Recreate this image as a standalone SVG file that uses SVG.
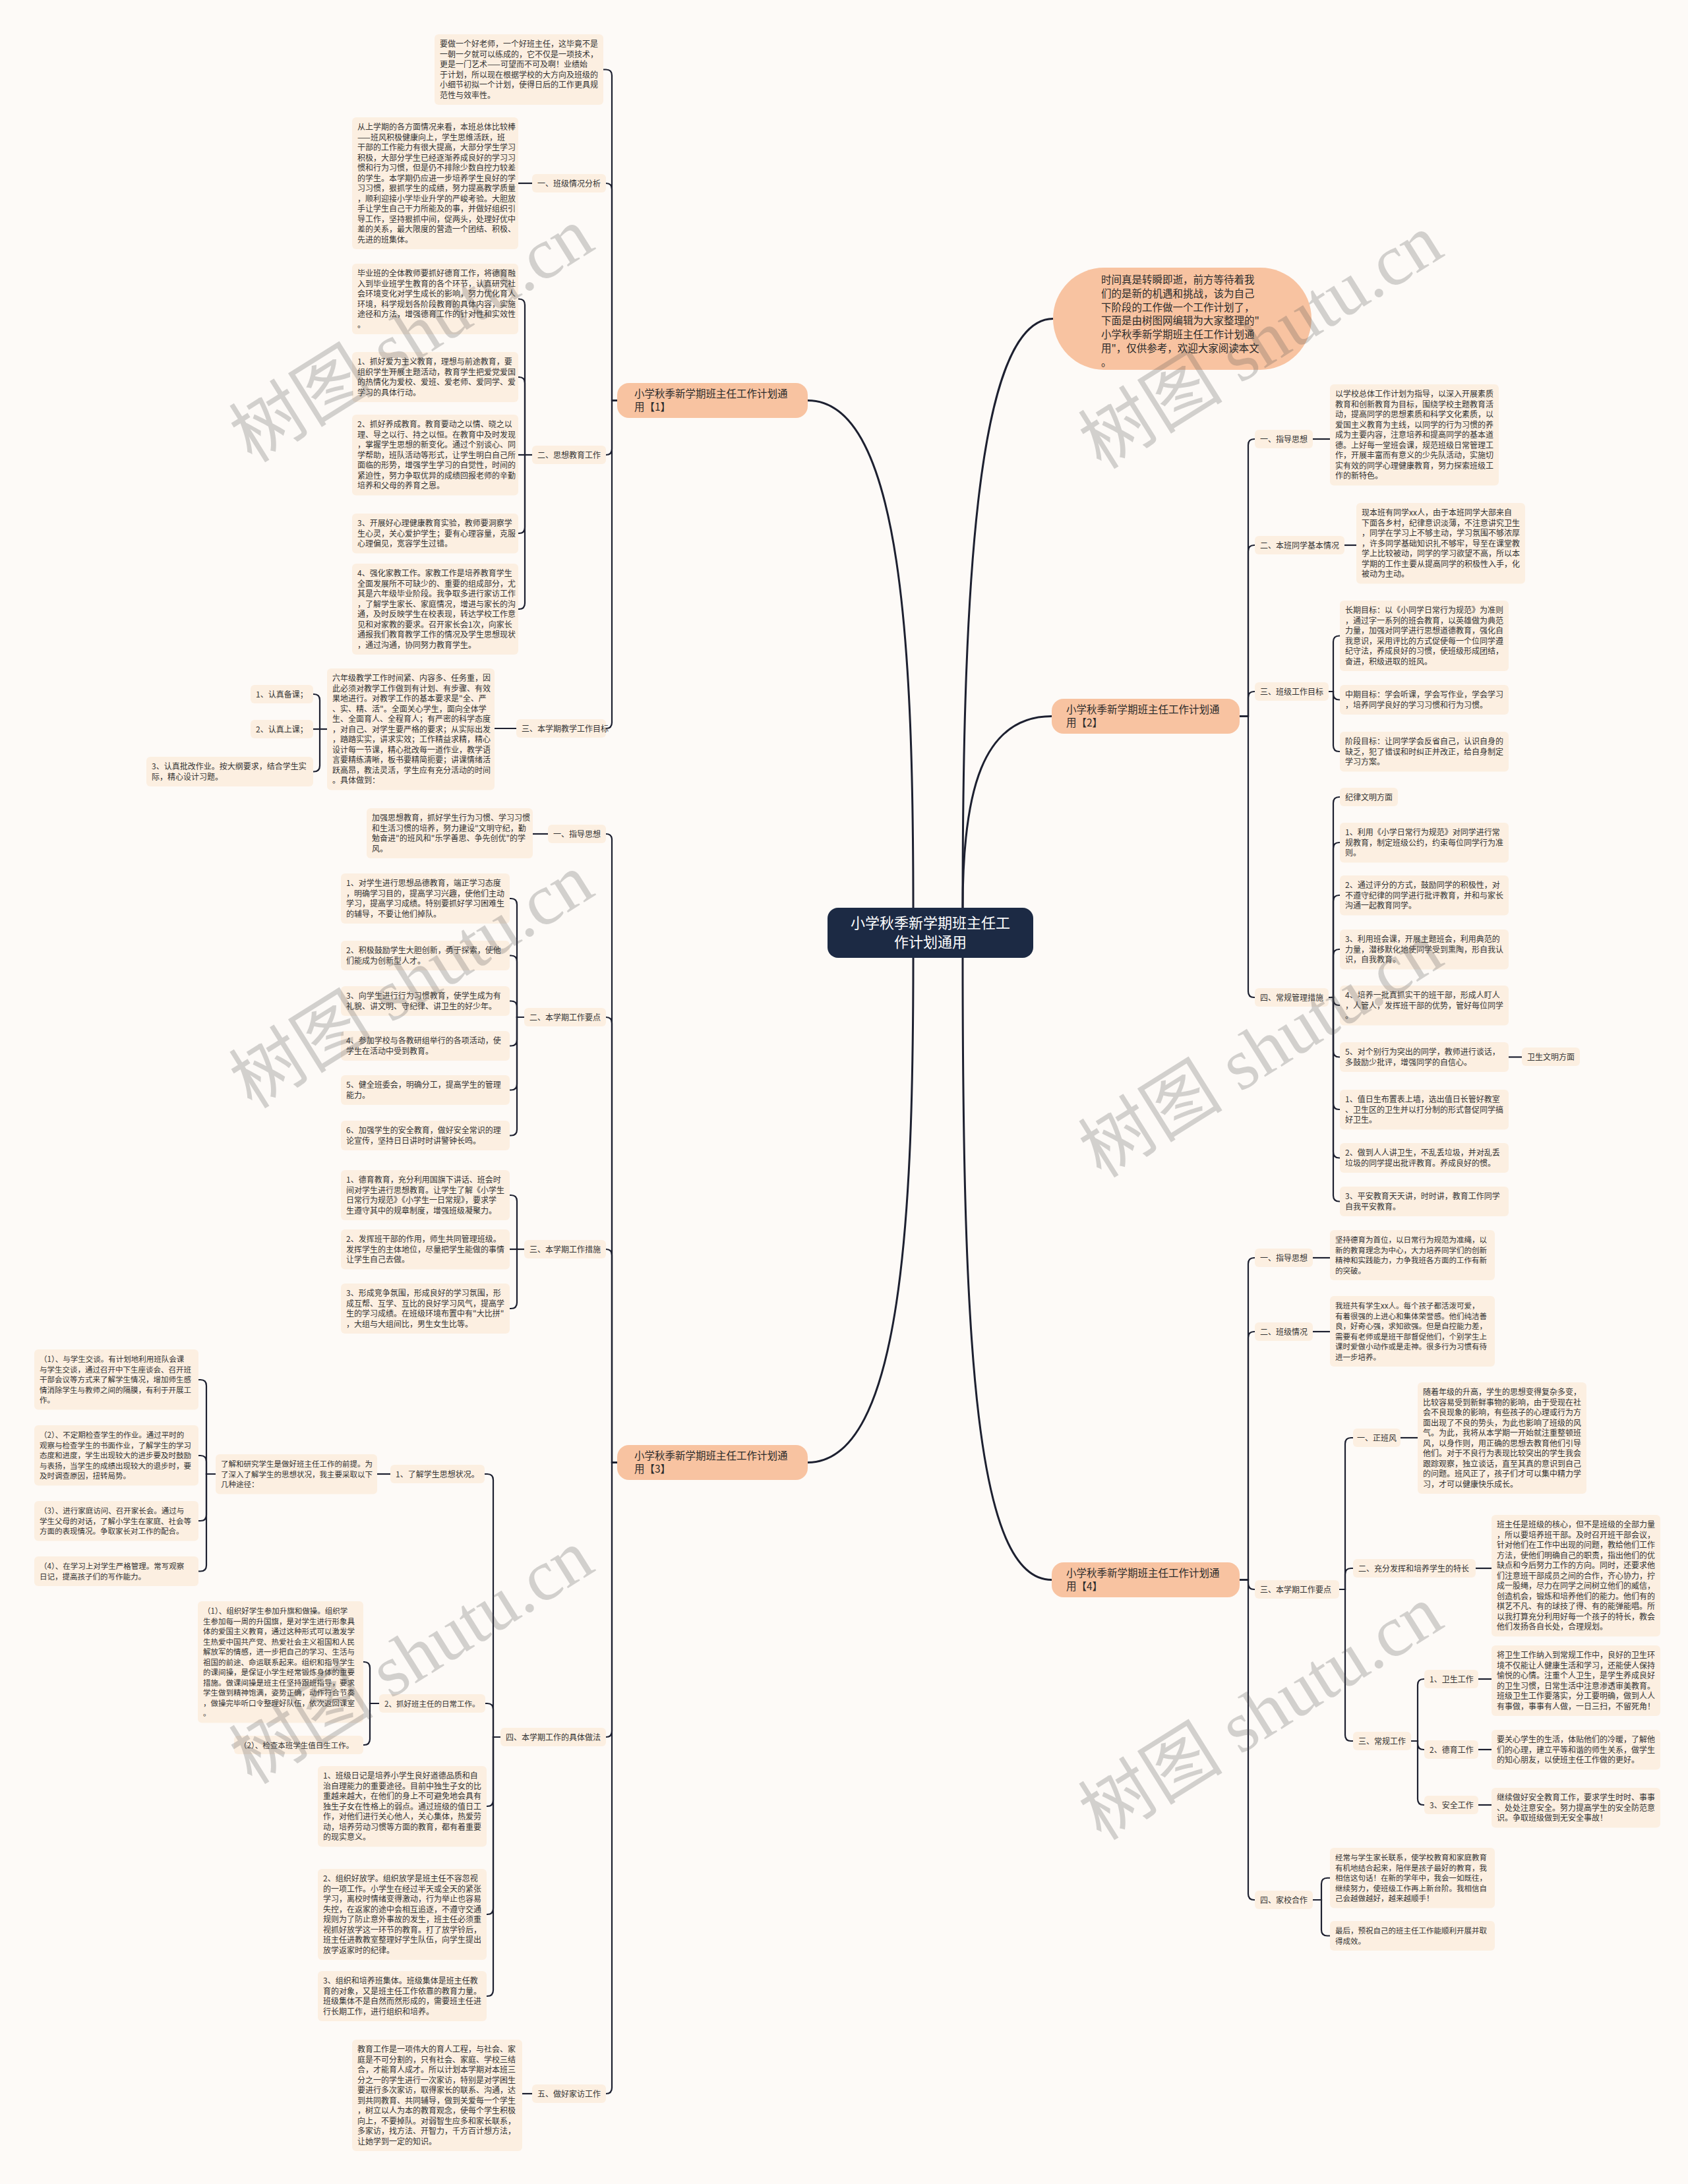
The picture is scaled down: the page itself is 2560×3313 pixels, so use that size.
<svg xmlns="http://www.w3.org/2000/svg" width="2560" height="3313" viewBox="0 0 2560 3313">
<style>
.t{font-family:"Noto Sans CJK SC","Liberation Sans",sans-serif;font-size:12px;fill:#333}
.s{font-size:11.5px}
.n rect{fill:#fcefe1}
.b rect{fill:#f8c3a1}
.b text{font-family:"Noto Sans CJK SC","Liberation Sans",sans-serif;font-size:15.5px;fill:#2b2b2b}
.c path{fill:none;stroke:#1d2030;stroke-width:2.2}
.c path.m{stroke-width:3}
.wm{font-family:"Liberation Serif","Noto Sans CJK SC",serif;font-size:110px;fill:#555;opacity:.25}
</style>
<rect width="2560" height="3313" fill="#fdfaf7"/>
<g id="connectors" class="c">
<path class="m" d="M1385 1377C1385 1000 1370 607.5 1225 607.5"/>
<path class="m" d="M1385 1453C1385 1830 1370 2218.5 1225 2218.5"/>
<path class="m" d="M1460 1377C1460 900 1480 483.5 1597 483.5"/>
<path class="m" d="M1460 1377C1460 1200 1490 1086.5 1595 1086.5"/>
<path class="m" d="M1460 1453C1460 2050 1480 2396.5 1595 2396.5"/>
<path d="M936 607.5H928V114.5Q928 105.5 919 105.5H915"/>
<path d="M936 607.5H928V287Q928 278 919 278"/>
<path d="M936 607.5H928V681Q928 690 919 690"/>
<path d="M936 607.5H928V1096Q928 1105 919 1105"/>
<path d="M807 278H786"/>
<path d="M807 690H796V462.5Q796 453.5 787 453.5H786"/>
<path d="M807 690H796V581Q796 572 787 572H786"/>
<path d="M807 690H786"/>
<path d="M807 690H796V800Q796 809 787 809H786"/>
<path d="M807 690H796V915Q796 924 787 924H786"/>
<path d="M783 1105H750"/>
<path d="M496 1106H485V1062Q485 1053 476 1053H475"/>
<path d="M496 1106H475"/>
<path d="M496 1106H485V1161.5Q485 1170.5 476 1170.5H475"/>
<path d="M1880 1086.5H1893V675Q1893 666 1902 666H1903"/>
<path d="M1880 1086.5H1893V836Q1893 827 1902 827H1903"/>
<path d="M1880 1086.5H1893V1058Q1893 1049 1902 1049H1903"/>
<path d="M1880 1086.5H1893V1504Q1893 1513 1902 1513H1903"/>
<path d="M1991 666H2017"/>
<path d="M2039 827H2057"/>
<path d="M2015 1049H2022V973.5Q2022 964.5 2031 964.5H2032"/>
<path d="M2015 1049H2022V1052.5Q2022 1061.5 2031 1061.5H2032"/>
<path d="M2015 1049H2022V1131Q2022 1140 2031 1140H2032"/>
<path d="M2015 1513H2022V1218Q2022 1209 2031 1209H2032"/>
<path d="M2015 1513H2022V1287Q2022 1278 2031 1278H2032"/>
<path d="M2015 1513H2022V1367Q2022 1358 2031 1358H2032"/>
<path d="M2015 1513H2022V1449Q2022 1440 2031 1440H2032"/>
<path d="M2015 1513H2022V1516Q2022 1525 2031 1525H2032"/>
<path d="M2015 1513H2022V1594.5Q2022 1603.5 2031 1603.5H2032"/>
<path d="M2015 1513H2022V1674Q2022 1683 2031 1683H2032"/>
<path d="M2015 1513H2022V1747.5Q2022 1756.5 2031 1756.5H2032"/>
<path d="M2015 1513H2022V1813.5Q2022 1822.5 2031 1822.5H2032"/>
<path d="M2288 1603.5H2308"/>
<path d="M936 2218.5H928V1274Q928 1265 919 1265"/>
<path d="M936 2218.5H928V1552Q928 1543 919 1543"/>
<path d="M936 2218.5H928V1904Q928 1895 919 1895"/>
<path d="M936 2218.5H928V2626Q928 2635 919 2635"/>
<path d="M936 2218.5H928V3167Q928 3176 919 3176"/>
<path d="M831 1265H808"/>
<path d="M795 1543H784V1372Q784 1363 775 1363H773"/>
<path d="M795 1543H784V1458.5Q784 1449.5 775 1449.5H773"/>
<path d="M795 1543H784V1527.5Q784 1518.5 775 1518.5H773"/>
<path d="M795 1543H784V1577.5Q784 1586.5 775 1586.5H773"/>
<path d="M795 1543H784V1644.5Q784 1653.5 775 1653.5H773"/>
<path d="M795 1543H784V1713.5Q784 1722.5 775 1722.5H773"/>
<path d="M795 1895H784V1822Q784 1813 775 1813H773"/>
<path d="M795 1895H773"/>
<path d="M795 1895H784V1976Q784 1985 775 1985H773"/>
<path d="M759 2635H748V2245Q748 2236 739 2236H735"/>
<path d="M759 2635H748V2593Q748 2584 739 2584H736"/>
<path d="M759 2635H748V2731Q748 2740 739 2740H738"/>
<path d="M759 2635H748V2895Q748 2904 739 2904H738"/>
<path d="M759 2635H748V3019Q748 3028 739 3028H738"/>
<path d="M592 2236H572"/>
<path d="M327 2236H313V2102Q313 2093 304 2093H301"/>
<path d="M327 2236H313V2217Q313 2208 304 2208H301"/>
<path d="M327 2236H313V2298Q313 2307 304 2307H301"/>
<path d="M327 2236H313V2374.5Q313 2383.5 304 2383.5H301"/>
<path d="M575 2584H561V2530Q561 2521 552 2521H551"/>
<path d="M575 2584H561V2638Q561 2647 552 2647H551"/>
<path d="M807 3176H792"/>
<path d="M1880 2396.5H1893V1917Q1893 1908 1902 1908H1903"/>
<path d="M1880 2396.5H1893V2029Q1893 2020 1902 2020H1903"/>
<path d="M1880 2396.5H1893V2402Q1893 2411 1902 2411H1903"/>
<path d="M1880 2396.5H1893V2873Q1893 2882 1902 2882H1903"/>
<path d="M1991 1908H2017"/>
<path d="M1991 2020H2017"/>
<path d="M2031 2411H2040V2190Q2040 2181 2049 2181H2052"/>
<path d="M2031 2411H2040V2388Q2040 2379 2049 2379H2052"/>
<path d="M2031 2411H2040V2632Q2040 2641 2049 2641H2052"/>
<path d="M2124 2181H2150"/>
<path d="M2238 2379H2262"/>
<path d="M2140 2641H2150V2556Q2150 2547 2159 2547H2160"/>
<path d="M2140 2641H2150V2645Q2150 2654 2159 2654H2160"/>
<path d="M2140 2641H2150V2729Q2150 2738 2159 2738H2160"/>
<path d="M2242 2547H2262"/>
<path d="M2242 2654H2262"/>
<path d="M2242 2738H2262"/>
<path d="M1991 2882H2004V2857.75Q2004 2848.75 2013 2848.75H2017"/>
<path d="M1991 2882H2004V2927.5Q2004 2936.5 2013 2936.5H2017"/>
</g>

<g id="center"><rect x="1255" y="1377" width="312" height="76" rx="16" fill="#1c2a44"/><text x="1411" y="1408" text-anchor="middle" font-family="Noto Sans CJK SC, sans-serif" font-size="22" fill="#fff">小学秋季新学期班主任工</text><text x="1411" y="1437" text-anchor="middle" font-family="Noto Sans CJK SC, sans-serif" font-size="22" fill="#fff">作计划通用</text></g>

<g id="intro" class="b"><rect x="1597" y="406" width="392" height="155" rx="77.5"/><text x="1670" y="430"><tspan x="1670">时间真是转瞬即逝，前方等待着我</tspan><tspan x="1670" dy="20.8">们的是新的机遇和挑战，该为自己</tspan><tspan x="1670" dy="20.8">下阶段的工作做一个工作计划了，</tspan><tspan x="1670" dy="20.8">下面是由树图网编辑为大家整理的"</tspan><tspan x="1670" dy="20.8">小学秋季新学期班主任工作计划通</tspan><tspan x="1670" dy="20.8">用"，仅供参考，欢迎大家阅读本文</tspan><tspan x="1670" dy="20.8">。</tspan></text></g>

<g id="branch1" class="b"><rect x="936" y="581" width="289" height="53" rx="18"/><text x="962" y="603"><tspan x="962">小学秋季新学期班主任工作计划通</tspan><tspan x="962" dy="20">用【1】</tspan></text></g>
<g id="branch2" class="b"><rect x="1595" y="1060" width="285" height="53" rx="18"/><text x="1617" y="1082"><tspan x="1617">小学秋季新学期班主任工作计划通</tspan><tspan x="1617" dy="20">用【2】</tspan></text></g>
<g id="branch3" class="b"><rect x="936" y="2192" width="289" height="53" rx="18"/><text x="962" y="2214"><tspan x="962">小学秋季新学期班主任工作计划通</tspan><tspan x="962" dy="20">用【3】</tspan></text></g>
<g id="branch4" class="b"><rect x="1595" y="2370" width="285" height="53" rx="18"/><text x="1617" y="2392"><tspan x="1617">小学秋季新学期班主任工作计划通</tspan><tspan x="1617" dy="20">用【4】</tspan></text></g>

<g id="n1a" class="n"><rect x="659" y="52" width="256" height="107" rx="6"/><text class="t" x="667" y="71"><tspan x="667">要做一个好老师，一个好班主任，这毕竟不是</tspan><tspan x="667" dy="15.5">一朝一夕就可以练成的，它不仅是一项技术，</tspan><tspan x="667" dy="15.5">更是一门艺术——可望而不可及啊！业绩始</tspan><tspan x="667" dy="15.5">于计划，所以现在根据学校的大方向及班级的</tspan><tspan x="667" dy="15.5">小细节初拟一个计划，使得日后的工作更具规</tspan><tspan x="667" dy="15.5">范性与效率性。</tspan></text></g>
<g id="n1l1" class="n"><rect x="807" y="264" width="112" height="28" rx="6"/><text class="t" x="815" y="282.5">一、班级情况分析</text></g>
<g id="n1t1" class="n"><rect x="534" y="178" width="252" height="200" rx="6"/><text class="t" x="542" y="197"><tspan x="542">从上学期的各方面情况来看，本班总体比较棒</tspan><tspan x="542" dy="15.5">——班风积极健康向上，学生思维活跃，班</tspan><tspan x="542" dy="15.5">干部的工作能力有很大提高，大部分学生学习</tspan><tspan x="542" dy="15.5">积极，大部分学生已经逐渐养成良好的学习习</tspan><tspan x="542" dy="15.5">惯和行为习惯，但是仍不排除少数自控力较差</tspan><tspan x="542" dy="15.5">的学生。本学期仍应进一步培养学生良好的学</tspan><tspan x="542" dy="15.5">习习惯，狠抓学生的成绩，努力提高教学质量</tspan><tspan x="542" dy="15.5">，顺利迎接小学毕业升学的严峻考验。大胆放</tspan><tspan x="542" dy="15.5">手让学生自己干力所能及的事，并做好组织引</tspan><tspan x="542" dy="15.5">导工作，坚持狠抓中间，促两头，处理好优中</tspan><tspan x="542" dy="15.5">差的关系，最大限度的营造一个团结、积极、</tspan><tspan x="542" dy="15.5">先进的班集体。</tspan></text></g>
<g id="n1l2" class="n"><rect x="807" y="676" width="112" height="28" rx="6"/><text class="t" x="815" y="694.5">二、思想教育工作</text></g>
<g id="n1b1" class="n"><rect x="534" y="400" width="252" height="107" rx="6"/><text class="t" x="542" y="419"><tspan x="542">毕业班的全体教师要抓好德育工作，将德育融</tspan><tspan x="542" dy="15.5">入到毕业班学生教育的各个环节，认真研究社</tspan><tspan x="542" dy="15.5">会环境变化对学生成长的影响，努力优化育人</tspan><tspan x="542" dy="15.5">环境，科学规划各阶段教育的具体内容，实施</tspan><tspan x="542" dy="15.5">途径和方法，增强德育工作的针对性和实效性</tspan><tspan x="542" dy="15.5">。</tspan></text></g>
<g id="n1b2" class="n"><rect x="534" y="534" width="252" height="76" rx="6"/><text class="t" x="542" y="553"><tspan x="542">1、抓好爱为主义教育，理想与前途教育，要</tspan><tspan x="542" dy="15.5">组织学生开展主题活动，教育学生把爱党爱国</tspan><tspan x="542" dy="15.5">的热情化为爱校、爱班、爱老师、爱同学、爱</tspan><tspan x="542" dy="15.5">学习的具体行动。</tspan></text></g>
<g id="n1b3" class="n"><rect x="534" y="629" width="252" height="122.5" rx="6"/><text class="t" x="542" y="648"><tspan x="542">2、抓好养成教育。教育要动之以情、晓之以</tspan><tspan x="542" dy="15.5">理、导之以行、持之以恒。在教育中及时发现</tspan><tspan x="542" dy="15.5">，掌握学生思想的新变化。通过个别谈心、同</tspan><tspan x="542" dy="15.5">学帮助，班队活动等形式，让学生明白自己所</tspan><tspan x="542" dy="15.5">面临的形势，增强学生学习的自觉性，时间的</tspan><tspan x="542" dy="15.5">紧迫性，努力争取优异的成绩回报老师的辛勤</tspan><tspan x="542" dy="15.5">培养和父母的养育之恩。</tspan></text></g>
<g id="n1b4" class="n"><rect x="534" y="779" width="252" height="60.5" rx="6"/><text class="t" x="542" y="798"><tspan x="542">3、开展好心理健康教育实验，教师要洞察学</tspan><tspan x="542" dy="15.5">生心灵，关心爱护学生；要有心理容量，克服</tspan><tspan x="542" dy="15.5">心理偏见，宽容学生过错。</tspan></text></g>
<g id="n1b5" class="n"><rect x="534" y="855" width="252" height="138" rx="6"/><text class="t" x="542" y="874"><tspan x="542">4、强化家教工作。家教工作是培养教育学生</tspan><tspan x="542" dy="15.5">全面发展所不可缺少的、重要的组成部分，尤</tspan><tspan x="542" dy="15.5">其是六年级毕业阶段。我争取多进行家访工作</tspan><tspan x="542" dy="15.5">，了解学生家长、家庭情况，增进与家长的沟</tspan><tspan x="542" dy="15.5">通，及时反映学生在校表现，转达学校工作意</tspan><tspan x="542" dy="15.5">见和对家教的要求。召开家长会1次，向家长</tspan><tspan x="542" dy="15.5">通报我们教育教学工作的情况及学生思想现状</tspan><tspan x="542" dy="15.5">，通过沟通，协同努力教育学生。</tspan></text></g>
<g id="n1l3" class="n"><rect x="783" y="1091" width="136" height="28" rx="6"/><text class="t" x="791" y="1109.5">三、本学期教学工作目标</text></g>
<g id="n1t3" class="n"><rect x="496" y="1014" width="254" height="184.5" rx="6"/><text class="t" x="504" y="1033"><tspan x="504">六年级教学工作时间紧、内容多、任务重，因</tspan><tspan x="504" dy="15.5">此必须对教学工作做到有计划、有步骤、有效</tspan><tspan x="504" dy="15.5">果地进行。对教学工作的基本要求是"全、严</tspan><tspan x="504" dy="15.5">、实、精、活"。全面关心学生，面向全体学</tspan><tspan x="504" dy="15.5">生、全面育人、全程育人；有严密的科学态度</tspan><tspan x="504" dy="15.5">，对自己、对学生要严格的要求；从实际出发</tspan><tspan x="504" dy="15.5">，踏踏实实，讲求实效；工作精益求精，精心</tspan><tspan x="504" dy="15.5">设计每一节课，精心批改每一道作业，教学语</tspan><tspan x="504" dy="15.5">言要精练清晰，板书要精简扼要；讲课情绪活</tspan><tspan x="504" dy="15.5">跃高昂，教法灵活，学生应有充分活动的时间</tspan><tspan x="504" dy="15.5">。具体做到：</tspan></text></g>
<g id="n1i1" class="n"><rect x="380" y="1039" width="95" height="28" rx="6"/><text class="t" x="388" y="1057.5">1、认真备课；</text></g>
<g id="n1i2" class="n"><rect x="380" y="1092" width="95" height="28" rx="6"/><text class="t" x="388" y="1110.5">2、认真上课；</text></g>
<g id="n1i3" class="n"><rect x="222" y="1148" width="253" height="45" rx="6"/><text class="t" x="230" y="1167"><tspan x="230">3、认真批改作业。按大纲要求，结合学生实</tspan><tspan x="230" dy="15.5">际，精心设计习题。</tspan></text></g>

<g id="n2l1" class="n"><rect x="1903" y="652" width="88" height="28" rx="6"/><text class="t" x="1911" y="670.5">一、指导思想</text></g>
<g id="n2t1" class="n"><rect x="2017" y="583" width="256" height="153.5" rx="6"/><text class="t" x="2025" y="602"><tspan x="2025">以学校总体工作计划为指导，以深入开展素质</tspan><tspan x="2025" dy="15.5">教育和创新教育为目标，围绕学校主题教育活</tspan><tspan x="2025" dy="15.5">动，提高同学的思想素质和科学文化素质，以</tspan><tspan x="2025" dy="15.5">爱国主义教育为主线，以同学的行为习惯的养</tspan><tspan x="2025" dy="15.5">成为主要内容，注意培养和提高同学的基本道</tspan><tspan x="2025" dy="15.5">德。上好每一堂班会课，规范班级日常管理工</tspan><tspan x="2025" dy="15.5">作，开展丰富而有意义的少先队活动，实施切</tspan><tspan x="2025" dy="15.5">实有效的同学心理健康教育，努力探索班级工</tspan><tspan x="2025" dy="15.5">作的新特色。</tspan></text></g>
<g id="n2l2" class="n"><rect x="1903" y="813" width="136" height="28" rx="6"/><text class="t" x="1911" y="831.5">二、本班同学基本情况</text></g>
<g id="n2t2" class="n"><rect x="2057" y="763" width="256" height="122.5" rx="6"/><text class="t" x="2065" y="782"><tspan x="2065">现本班有同学xx人，由于本班同学大部来自</tspan><tspan x="2065" dy="15.5">下面各乡村，纪律意识淡薄，不注意讲究卫生</tspan><tspan x="2065" dy="15.5">，同学在学习上不够主动，学习氛围不够浓厚</tspan><tspan x="2065" dy="15.5">，许多同学基础知识扎不够牢，导至在课堂教</tspan><tspan x="2065" dy="15.5">学上比较被动，同学的学习欲望不高，所以本</tspan><tspan x="2065" dy="15.5">学期的工作主要从提高同学的积极性入手，化</tspan><tspan x="2065" dy="15.5">被动为主动。</tspan></text></g>
<g id="n2l3" class="n"><rect x="1903" y="1035" width="112" height="28" rx="6"/><text class="t" x="1911" y="1053.5">三、班级工作目标</text></g>
<g id="n2g1" class="n"><rect x="2032" y="911" width="256" height="107" rx="6"/><text class="t" x="2040" y="930"><tspan x="2040">长期目标：以《小同学日常行为规范》为准则</tspan><tspan x="2040" dy="15.5">，通过字一系列的班会教育，以英雄做为典范</tspan><tspan x="2040" dy="15.5">力量，加强对同学进行思想道德教育，强化自</tspan><tspan x="2040" dy="15.5">我意识，采用评比的方式促使每一个位同学遵</tspan><tspan x="2040" dy="15.5">纪守法，养成良好的习惯，使班级形成团结，</tspan><tspan x="2040" dy="15.5">奋进，积级进取的班风。</tspan></text></g>
<g id="n2g2" class="n"><rect x="2032" y="1039" width="256" height="45" rx="6"/><text class="t" x="2040" y="1058"><tspan x="2040">中期目标：学会听课，学会写作业，学会学习</tspan><tspan x="2040" dy="15.5">，培养同学良好的学习习惯和行为习惯。</tspan></text></g>
<g id="n2g3" class="n"><rect x="2032" y="1110" width="256" height="60.5" rx="6"/><text class="t" x="2040" y="1129"><tspan x="2040">阶段目标：让同学学会反省自己，认识自身的</tspan><tspan x="2040" dy="15.5">缺乏，犯了错误和时纠正并改正，给自身制定</tspan><tspan x="2040" dy="15.5">学习方案。</tspan></text></g>
<g id="n2l4" class="n"><rect x="1903" y="1499" width="112" height="28" rx="6"/><text class="t" x="1911" y="1517.5">四、常规管理措施</text></g>
<g id="n2m0" class="n"><rect x="2032" y="1195" width="88" height="28" rx="6"/><text class="t" x="2040" y="1213.5">纪律文明方面</text></g>
<g id="n2m1" class="n"><rect x="2032" y="1248" width="256" height="60.5" rx="6"/><text class="t" x="2040" y="1267"><tspan x="2040">1、利用《小学日常行为规范》对同学进行常</tspan><tspan x="2040" dy="15.5">规教育，制定班级公约，约束每位同学行为准</tspan><tspan x="2040" dy="15.5">则。</tspan></text></g>
<g id="n2m2" class="n"><rect x="2032" y="1328" width="256" height="60.5" rx="6"/><text class="t" x="2040" y="1347"><tspan x="2040">2、通过评分的方式，鼓励同学的积极性，对</tspan><tspan x="2040" dy="15.5">不遵守纪律的同学进行批评教育，并和与家长</tspan><tspan x="2040" dy="15.5">沟通一起教育同学。</tspan></text></g>
<g id="n2m3" class="n"><rect x="2032" y="1410" width="256" height="60.5" rx="6"/><text class="t" x="2040" y="1429"><tspan x="2040">3、利用班会课，开展主题班会，利用典范的</tspan><tspan x="2040" dy="15.5">力量，潜移默化地使同学受到熏陶，形自我认</tspan><tspan x="2040" dy="15.5">识，自我教育。</tspan></text></g>
<g id="n2m4" class="n"><rect x="2032" y="1495" width="256" height="60.5" rx="6"/><text class="t" x="2040" y="1514"><tspan x="2040">4、培养一批真抓实干的班干部，形成人盯人</tspan><tspan x="2040" dy="15.5">，人管人，发挥班干部的优势，管好每位同学</tspan><tspan x="2040" dy="15.5">。</tspan></text></g>
<g id="n2m5" class="n"><rect x="2032" y="1581" width="256" height="45" rx="6"/><text class="t" x="2040" y="1600"><tspan x="2040">5、对个别行为突出的同学，教师进行谈话，</tspan><tspan x="2040" dy="15.5">多鼓励少批评，增强同学的自信心。</tspan></text></g>
<g id="n2w0" class="n"><rect x="2308" y="1589" width="88" height="28" rx="6"/><text class="t" x="2316" y="1607.5">卫生文明方面</text></g>
<g id="n2w1" class="n"><rect x="2032" y="1653" width="256" height="60.5" rx="6"/><text class="t" x="2040" y="1672"><tspan x="2040">1、值日生布置表上墙，选出值日长管好教室</tspan><tspan x="2040" dy="15.5">、卫生区的卫生并以打分制的形式督促同学搞</tspan><tspan x="2040" dy="15.5">好卫生。</tspan></text></g>
<g id="n2w2" class="n"><rect x="2032" y="1734" width="256" height="45" rx="6"/><text class="t" x="2040" y="1753"><tspan x="2040">2、做到人人讲卫生，不乱丢垃圾，并对乱丢</tspan><tspan x="2040" dy="15.5">垃圾的同学提出批评教育。养成良好的惯。</tspan></text></g>
<g id="n2w3" class="n"><rect x="2032" y="1800" width="256" height="45" rx="6"/><text class="t" x="2040" y="1819"><tspan x="2040">3、平安教育天天讲，时时讲，教育工作同学</tspan><tspan x="2040" dy="15.5">自我平安教育。</tspan></text></g>

<g id="n3l1" class="n"><rect x="831" y="1251" width="88" height="28" rx="6"/><text class="t" x="839" y="1269.5">一、指导思想</text></g>
<g id="n3t1" class="n"><rect x="556" y="1226" width="252" height="76" rx="6"/><text class="t" x="564" y="1245"><tspan x="564">加强思想教育，抓好学生行为习惯、学习习惯</tspan><tspan x="564" dy="15.5">和生活习惯的培养，努力建设"文明守纪，勤</tspan><tspan x="564" dy="15.5">勉奋进"的班风和"乐学善思、争先创优"的学</tspan><tspan x="564" dy="15.5">风。</tspan></text></g>
<g id="n3l2" class="n"><rect x="795" y="1529" width="124" height="28" rx="6"/><text class="t" x="803" y="1547.5">二、本学期工作要点</text></g>
<g id="n3a1" class="n"><rect x="517" y="1325" width="256" height="76" rx="6"/><text class="t" x="525" y="1344"><tspan x="525">1、对学生进行思想品德教育，端正学习态度</tspan><tspan x="525" dy="15.5">，明确学习目的，提高学习兴趣，使他们主动</tspan><tspan x="525" dy="15.5">学习，提高学习成绩。特别要抓好学习困难生</tspan><tspan x="525" dy="15.5">的辅导，不要让他们掉队。</tspan></text></g>
<g id="n3a2" class="n"><rect x="517" y="1427" width="256" height="45" rx="6"/><text class="t" x="525" y="1446"><tspan x="525">2、积极鼓励学生大胆创新，勇于探索，使他</tspan><tspan x="525" dy="15.5">们能成为创新型人才。</tspan></text></g>
<g id="n3a3" class="n"><rect x="517" y="1496" width="256" height="45" rx="6"/><text class="t" x="525" y="1515"><tspan x="525">3、向学生进行行为习惯教育，使学生成为有</tspan><tspan x="525" dy="15.5">礼貌、讲文明、守纪律、讲卫生的好少年。</tspan></text></g>
<g id="n3a4" class="n"><rect x="517" y="1564" width="256" height="45" rx="6"/><text class="t" x="525" y="1583"><tspan x="525">4、参加学校与各教研组举行的各项活动，使</tspan><tspan x="525" dy="15.5">学生在活动中受到教育。</tspan></text></g>
<g id="n3a5" class="n"><rect x="517" y="1631" width="256" height="45" rx="6"/><text class="t" x="525" y="1650"><tspan x="525">5、健全班委会，明确分工，提高学生的管理</tspan><tspan x="525" dy="15.5">能力。</tspan></text></g>
<g id="n3a6" class="n"><rect x="517" y="1700" width="256" height="45" rx="6"/><text class="t" x="525" y="1719"><tspan x="525">6、加强学生的安全教育，做好安全常识的理</tspan><tspan x="525" dy="15.5">论宣传，坚持日日讲时时讲警钟长鸣。</tspan></text></g>
<g id="n3l3" class="n"><rect x="795" y="1881" width="124" height="28" rx="6"/><text class="t" x="803" y="1899.5">三、本学期工作措施</text></g>
<g id="n3b1" class="n"><rect x="517" y="1775" width="256" height="76" rx="6"/><text class="t" x="525" y="1794"><tspan x="525">1、德育教育，充分利用国旗下讲话、班会时</tspan><tspan x="525" dy="15.5">间对学生进行思想教育。让学生了解《小学生</tspan><tspan x="525" dy="15.5">日常行为规范》《小学生一日常规》，要求学</tspan><tspan x="525" dy="15.5">生遵守其中的规章制度，增强班级凝聚力。</tspan></text></g>
<g id="n3b2" class="n"><rect x="517" y="1865" width="256" height="60.5" rx="6"/><text class="t" x="525" y="1884"><tspan x="525">2、发挥班干部的作用，师生共同管理班级。</tspan><tspan x="525" dy="15.5">发挥学生的主体地位，尽量把学生能做的事情</tspan><tspan x="525" dy="15.5">让学生自己去做。</tspan></text></g>
<g id="n3b3" class="n"><rect x="517" y="1947" width="256" height="76" rx="6"/><text class="t" x="525" y="1966"><tspan x="525">3、形成竞争氛围，形成良好的学习氛围，形</tspan><tspan x="525" dy="15.5">成互帮、互学、互比的良好学习风气，提高学</tspan><tspan x="525" dy="15.5">生的学习成绩。在班级环境布置中有"大比拼"</tspan><tspan x="525" dy="15.5">，大组与大组间比，男生女生比等。</tspan></text></g>
<g id="n3l4" class="n"><rect x="759" y="2621" width="160" height="28" rx="6"/><text class="t" x="767" y="2639.5">四、本学期工作的具体做法</text></g>
<g id="n3c1" class="n"><rect x="592" y="2222" width="143" height="28" rx="6"/><text class="t" x="600" y="2240.5">1、了解学生思想状况。</text></g>
<g id="n3c1t" class="n"><rect x="327" y="2206" width="245" height="60.5" rx="6"/><text class="t s" x="335" y="2225"><tspan x="335">了解和研究学生是做好班主任工作的前提。为</tspan><tspan x="335" dy="15.5">了深入了解学生的思想状况，我主要采取以下</tspan><tspan x="335" dy="15.5">几种途径：</tspan></text></g>
<g id="n3d1" class="n"><rect x="52" y="2047" width="249" height="91.5" rx="6"/><text class="t s" x="60" y="2066"><tspan x="60">（1）、与学生交谈。有计划地利用班队会课</tspan><tspan x="60" dy="15.5">与学生交谈，通过召开中下生座谈会、召开班</tspan><tspan x="60" dy="15.5">干部会议等方式来了解学生情况，增加师生感</tspan><tspan x="60" dy="15.5">情消除学生与教师之间的隔膜，有利于开展工</tspan><tspan x="60" dy="15.5">作。</tspan></text></g>
<g id="n3d2" class="n"><rect x="52" y="2162" width="249" height="91.5" rx="6"/><text class="t s" x="60" y="2181"><tspan x="60">（2）、不定期检查学生的作业。通过平时的</tspan><tspan x="60" dy="15.5">观察与检查学生的书面作业，了解学生的学习</tspan><tspan x="60" dy="15.5">态度和进度，学生出现较大的进步要及时鼓励</tspan><tspan x="60" dy="15.5">与表扬，当学生的成绩出现较大的退步时，要</tspan><tspan x="60" dy="15.5">及时调查原因，扭转局势。</tspan></text></g>
<g id="n3d3" class="n"><rect x="52" y="2277" width="249" height="60.5" rx="6"/><text class="t s" x="60" y="2296"><tspan x="60">（3）、进行家庭访问、召开家长会。通过与</tspan><tspan x="60" dy="15.5">学生父母的对话，了解小学生在家庭、社会等</tspan><tspan x="60" dy="15.5">方面的表现情况。争取家长对工作的配合。</tspan></text></g>
<g id="n3d4" class="n"><rect x="52" y="2361" width="249" height="45" rx="6"/><text class="t s" x="60" y="2380"><tspan x="60">（4）、在学习上对学生严格管理。常写观察</tspan><tspan x="60" dy="15.5">日记，提高孩子们的写作能力。</tspan></text></g>
<g id="n3c2" class="n"><rect x="575" y="2570" width="161" height="28" rx="6"/><text class="t s" x="583" y="2588.5">2、抓好班主任的日常工作。</text></g>
<g id="n3e1" class="n"><rect x="300" y="2429" width="251" height="184.5" rx="6"/><text class="t s" x="308" y="2448"><tspan x="308">（1）、组织好学生参加升旗和做操。组织学</tspan><tspan x="308" dy="15.5">生参加每一周的升国旗，是对学生进行形象具</tspan><tspan x="308" dy="15.5">体的爱国主义教育，通过这种形式可以激发学</tspan><tspan x="308" dy="15.5">生热爱中国共产党、热爱社会主义祖国和人民</tspan><tspan x="308" dy="15.5">解放军的情感，进一步把自己的学习、生活与</tspan><tspan x="308" dy="15.5">祖国的前途、命运联系起来。组织和指导学生</tspan><tspan x="308" dy="15.5">的课间操，是保证小学生经常锻炼身体的重要</tspan><tspan x="308" dy="15.5">措施。做课间操是班主任坚持跟班指导，要求</tspan><tspan x="308" dy="15.5">学生做到精神饱满，姿势正确，动作符合节奏</tspan><tspan x="308" dy="15.5">，做操完毕听口令整理好队伍，依次返回课室</tspan><tspan x="308" dy="15.5">。</tspan></text></g>
<g id="n3e2" class="n"><rect x="355" y="2633" width="196" height="28" rx="6"/><text class="t s" x="363" y="2651.5">（2）、检查本班学生值日生工作。</text></g>
<g id="n3f1" class="n"><rect x="482" y="2679" width="256" height="122.5" rx="6"/><text class="t" x="490" y="2698"><tspan x="490">1、班级日记是培养小学生良好道德品质和自</tspan><tspan x="490" dy="15.5">治自理能力的重要途径。目前中独生子女的比</tspan><tspan x="490" dy="15.5">重越来越大，在他们的身上不可避免地会具有</tspan><tspan x="490" dy="15.5">独生子女在性格上的弱点。通过班级的值日工</tspan><tspan x="490" dy="15.5">作，对他们进行关心他人，关心集体，热爱劳</tspan><tspan x="490" dy="15.5">动，培养劳动习惯等方面的教育，都有着重要</tspan><tspan x="490" dy="15.5">的现实意义。</tspan></text></g>
<g id="n3f2" class="n"><rect x="482" y="2835" width="256" height="138" rx="6"/><text class="t" x="490" y="2854"><tspan x="490">2、组织好放学。组织放学是班主任不容忽视</tspan><tspan x="490" dy="15.5">的一项工作。小学生在经过半天或全天的紧张</tspan><tspan x="490" dy="15.5">学习，离校时情绪变得激动，行为举止也容易</tspan><tspan x="490" dy="15.5">失控，在返家的途中会相互追逐，不遵守交通</tspan><tspan x="490" dy="15.5">规则为了防止意外事故的发生，班主任必须重</tspan><tspan x="490" dy="15.5">视抓好放学这一环节的教育。打了放学铃后，</tspan><tspan x="490" dy="15.5">班主任进教教室整理好学生队伍，向学生提出</tspan><tspan x="490" dy="15.5">放学返家时的纪律。</tspan></text></g>
<g id="n3f3" class="n"><rect x="482" y="2990" width="256" height="76" rx="6"/><text class="t" x="490" y="3009"><tspan x="490">3、组织和培养班集体。班级集体是班主任教</tspan><tspan x="490" dy="15.5">育的对象，又是班主任工作依靠的教育力量。</tspan><tspan x="490" dy="15.5">班级集体不是自然而然形成的，需要班主任进</tspan><tspan x="490" dy="15.5">行长期工作，进行组织和培养。</tspan></text></g>
<g id="n3l5" class="n"><rect x="807" y="3162" width="112" height="28" rx="6"/><text class="t" x="815" y="3180.5">五、做好家访工作</text></g>
<g id="n3g" class="n"><rect x="534" y="3094" width="258" height="169" rx="6"/><text class="t" x="542" y="3113"><tspan x="542">教育工作是一项伟大的育人工程，与社会、家</tspan><tspan x="542" dy="15.5">庭是不可分割的，只有社会、家庭、学校三结</tspan><tspan x="542" dy="15.5">合，才能育人成才。所以计划本学期对本班三</tspan><tspan x="542" dy="15.5">分之一的学生进行一次家访，特别是对学困生</tspan><tspan x="542" dy="15.5">要进行多次家访，取得家长的联系、沟通，达</tspan><tspan x="542" dy="15.5">到共同教育、共同辅导，做到关爱每一个学生</tspan><tspan x="542" dy="15.5">，树立以人为本的教育观念，使每个学生积极</tspan><tspan x="542" dy="15.5">向上，不要掉队。对弱智生应多和家长联系，</tspan><tspan x="542" dy="15.5">多家访，找方法、开智力，千方百计想方法，</tspan><tspan x="542" dy="15.5">让她学到一定的知识。</tspan></text></g>

<g id="n4l1" class="n"><rect x="1903" y="1894" width="88" height="28" rx="6"/><text class="t" x="1911" y="1912.5">一、指导思想</text></g>
<g id="n4t1" class="n"><rect x="2017" y="1866" width="250" height="76" rx="6"/><text class="t s" x="2025" y="1885"><tspan x="2025">坚持德育为首位，以日常行为规范为准绳，以</tspan><tspan x="2025" dy="15.5">新的教育理念为中心，大力培养同学们的创新</tspan><tspan x="2025" dy="15.5">精神和实践能力，力争我班各方面的工作有新</tspan><tspan x="2025" dy="15.5">的突破。</tspan></text></g>
<g id="n4l2" class="n"><rect x="1903" y="2006" width="88" height="28" rx="6"/><text class="t" x="1911" y="2024.5">二、班级情况</text></g>
<g id="n4t2" class="n"><rect x="2017" y="1966" width="250" height="107" rx="6"/><text class="t s" x="2025" y="1985"><tspan x="2025">我班共有学生xx人。每个孩子都活泼可爱，</tspan><tspan x="2025" dy="15.5">有着很强的上进心和集体荣誉感。他们纯洁善</tspan><tspan x="2025" dy="15.5">良，好奇心强，求知欲强。但是自控能力差，</tspan><tspan x="2025" dy="15.5">需要有老师或是班干部督促他们，个别学生上</tspan><tspan x="2025" dy="15.5">课时爱做小动作或是走神。很多行为习惯有待</tspan><tspan x="2025" dy="15.5">进一步培养。</tspan></text></g>
<g id="n4l3" class="n"><rect x="1903" y="2397" width="128" height="28" rx="6"/><text class="t" x="1911" y="2415.5">三、本学期工作要点</text></g>
<g id="n4k1" class="n"><rect x="2052" y="2167" width="72" height="28" rx="6"/><text class="t" x="2058" y="2185.5">一、正班风</text></g>
<g id="n4k1t" class="n"><rect x="2150" y="2097" width="256" height="169" rx="6"/><text class="t" x="2158" y="2116"><tspan x="2158">随着年级的升高，学生的思想变得复杂多变，</tspan><tspan x="2158" dy="15.5">比较容易受到新鲜事物的影响，由于受现在社</tspan><tspan x="2158" dy="15.5">会不良现象的影响，有些孩子的心理或行为方</tspan><tspan x="2158" dy="15.5">面出现了不良的势头，为此也影响了班级的风</tspan><tspan x="2158" dy="15.5">气。为此，我将从本学期一开始就注重整顿班</tspan><tspan x="2158" dy="15.5">风，以身作则，用正确的思想去教育他们引导</tspan><tspan x="2158" dy="15.5">他们。对于不良行为表现比较突出的学生我会</tspan><tspan x="2158" dy="15.5">跟踪观察，独立谈话，直至其真的意识到自己</tspan><tspan x="2158" dy="15.5">的问题。班风正了，孩子们才可以集中精力学</tspan><tspan x="2158" dy="15.5">习，才可以健康快乐成长。</tspan></text></g>
<g id="n4k2" class="n"><rect x="2052" y="2365" width="186" height="28" rx="6"/><text class="t" x="2060" y="2383.5">二、充分发挥和培养学生的特长</text></g>
<g id="n4k2t" class="n"><rect x="2262" y="2298" width="256" height="184.5" rx="6"/><text class="t" x="2270" y="2317"><tspan x="2270">班主任是班级的核心，但不是班级的全部力量</tspan><tspan x="2270" dy="15.5">，所以要培养班干部。及时召开班干部会议，</tspan><tspan x="2270" dy="15.5">针对他们在工作中出现的问题，教给他们工作</tspan><tspan x="2270" dy="15.5">方法，使他们明确自己的职责，指出他们的优</tspan><tspan x="2270" dy="15.5">缺点和今后努力工作的方向。同时，还要求他</tspan><tspan x="2270" dy="15.5">们注意班干部成员之间的合作，齐心协力，拧</tspan><tspan x="2270" dy="15.5">成一股绳，尽力在同学之间树立他们的威信，</tspan><tspan x="2270" dy="15.5">创造机会，锻炼和培养他们的能力。他们有的</tspan><tspan x="2270" dy="15.5">棋艺不凡、有的球技了得、有的能弹能唱。所</tspan><tspan x="2270" dy="15.5">以我打算充分利用好每一个孩子的特长，教会</tspan><tspan x="2270" dy="15.5">他们发扬各自长处，合理规划。</tspan></text></g>
<g id="n4k3" class="n"><rect x="2052" y="2627" width="88" height="28" rx="6"/><text class="t" x="2060" y="2645.5">三、常规工作</text></g>
<g id="n4h1" class="n"><rect x="2160" y="2533" width="82" height="28" rx="6"/><text class="t" x="2168" y="2551.5">1、卫生工作</text></g>
<g id="n4h1t" class="n"><rect x="2262" y="2496" width="256" height="107" rx="6"/><text class="t" x="2270" y="2515"><tspan x="2270">将卫生工作纳入到常规工作中，良好的卫生环</tspan><tspan x="2270" dy="15.5">境不仅能让人健康生活和学习，还能使人保持</tspan><tspan x="2270" dy="15.5">愉悦的心情。注重个人卫生，是学生养成良好</tspan><tspan x="2270" dy="15.5">的卫生习惯，日常生活中注意渗透审美教育。</tspan><tspan x="2270" dy="15.5">班级卫生工作要落实，分工要明确，做到人人</tspan><tspan x="2270" dy="15.5">有事做，事事有人做，一日三扫，不留死角！</tspan></text></g>
<g id="n4h2" class="n"><rect x="2160" y="2640" width="82" height="28" rx="6"/><text class="t" x="2168" y="2658.5">2、德育工作</text></g>
<g id="n4h2t" class="n"><rect x="2262" y="2624" width="256" height="60.5" rx="6"/><text class="t" x="2270" y="2643"><tspan x="2270">要关心学生的生活，体贴他们的冷暖，了解他</tspan><tspan x="2270" dy="15.5">们的心理，建立平等和谐的师生关系，做学生</tspan><tspan x="2270" dy="15.5">的知心朋友，以使班主任工作做的更好。</tspan></text></g>
<g id="n4h3" class="n"><rect x="2160" y="2724" width="82" height="28" rx="6"/><text class="t" x="2168" y="2742.5">3、安全工作</text></g>
<g id="n4h3t" class="n"><rect x="2262" y="2712" width="256" height="60.5" rx="6"/><text class="t" x="2270" y="2731"><tspan x="2270">继续做好安全教育工作，要求学生时时、事事</tspan><tspan x="2270" dy="15.5">、处处注意安全。努力提高学生的安全防范意</tspan><tspan x="2270" dy="15.5">识。争取班级做到无安全事故！</tspan></text></g>
<g id="n4l4" class="n"><rect x="1903" y="2868" width="88" height="28" rx="6"/><text class="t" x="1911" y="2886.5">四、家校合作</text></g>
<g id="n4j1" class="n"><rect x="2017" y="2803" width="250" height="91.5" rx="6"/><text class="t s" x="2025" y="2822"><tspan x="2025">经常与学生家长联系，使学校教育和家庭教育</tspan><tspan x="2025" dy="15.5">有机地结合起来，陪伴是孩子最好的教育，我</tspan><tspan x="2025" dy="15.5">相信这句话！在新的学年中，我会一如既往，</tspan><tspan x="2025" dy="15.5">继续努力，使班级工作再上新台阶。我相信自</tspan><tspan x="2025" dy="15.5">己会越做越好，越来越顺手！</tspan></text></g>
<g id="n4j2" class="n"><rect x="2017" y="2914" width="250" height="45" rx="6"/><text class="t s" x="2025" y="2933"><tspan x="2025">最后，预祝自己的班主任工作能顺利开展并取</tspan><tspan x="2025" dy="15.5">得成效。</tspan></text></g>

<g id="watermarks">
<text class="wm" text-anchor="middle" transform="translate(644 540) rotate(-32)">树图 shutu.cn</text>
<text class="wm" text-anchor="middle" transform="translate(1932 550) rotate(-32)">树图 shutu.cn</text>
<text class="wm" text-anchor="middle" transform="translate(644 1520) rotate(-32)">树图 shutu.cn</text>
<text class="wm" text-anchor="middle" transform="translate(1932 1625) rotate(-32)">树图 shutu.cn</text>
<text class="wm" text-anchor="middle" transform="translate(644 2545) rotate(-32)">树图 shutu.cn</text>
<text class="wm" text-anchor="middle" transform="translate(1932 2630) rotate(-32)">树图 shutu.cn</text>
</g>
</svg>
